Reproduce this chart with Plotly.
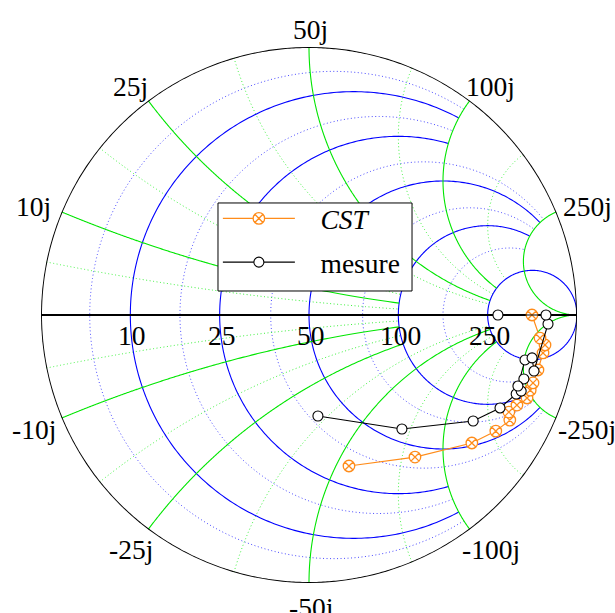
import numpy as np
import plotly.graph_objects as go

Z0 = 50.0

# ---- data (ohms) ----
cst_R = [31.7, 43.5, 52.7, 58.4, 65.7, 79.9, 87.4, 92.7, 110, 130, 180, 301, 396, 472, 545]
cst_X = [-54.1, -82.0, -125, -155, -181, -185, -206, -237, -257, -278, -324, -392, -418, -325, 0]

mes_R = [39.8, 57.5, 76.4, 91.6, 114, 118, 156, 135.5, 245, 262, 181, 793, 814, 289]
mes_X = [-35.0, -70.0, -129, -171, -213, -229, -248, -223, -255, -298, -301, -262, 0, 0]

# ---- tick labels (ohms) ----
real_ticks = [10, 25, 50, 100, 250]
imag_ticks = [10, 25, 50, 100, 250, -10, -25, -50, -100, -250]

# ---- grid definition (normalized) ----
INF = np.inf
major_r = [0.2, 0.5, 1, 2, 5]
major_r_ext = [2, 2, 5, 5, INF]
minor_r = [0.1, 0.35, 0.75, 1.5, 3]
minor_r_ext = [2, 2, 5, 5, 5]
major_x = [0.2, 0.5, 1, 2, 5]
major_x_ext = [2, 2, 5, 5, INF]
minor_x = [0.1, 0.35, 0.75, 1.5, 3]
minor_x_ext = [2, 2, 5, 5, 5]

BLUE = "#0000ff"
GREEN = "#00e600"
MINOR_BLUE = "#4a4aff"
MINOR_GREEN = "#3cf03c"


def r_circle(r, xmax, n=300):
    bmax = 0.49995 * np.pi if np.isinf(xmax) else np.arctan(xmax / (1 + r))
    b = np.linspace(-bmax, bmax, n)
    return np.full(n, r), (1 + r) * np.tan(b)


def x_arc(x, rmax, n=300):
    bmax = 0.49995 * np.pi if np.isinf(rmax) else np.arctan(rmax / abs(x))
    b = np.linspace(0, bmax, n)
    return abs(x) * np.tan(b), np.full(n, x)


fig = go.Figure()


def add_line(re, im, color, width, dash):
    fig.add_trace(go.Scattersmith(real=re, imag=im, mode="lines",
                                  line=dict(color=color, width=width, dash=dash),
                                  hoverinfo="skip", showlegend=False))


for r, e in zip(minor_r, minor_r_ext):
    add_line(*r_circle(r, e), MINOR_BLUE, 1, "1px,2.5px")
for x, e in zip(minor_x, minor_x_ext):
    add_line(*x_arc(x, e), MINOR_GREEN, 1, "1px,2.5px")
    add_line(*x_arc(-x, e), MINOR_GREEN, 1, "1px,2.5px")
for r, e in zip(major_r, major_r_ext):
    add_line(*r_circle(r, e), BLUE, 1.1, "solid")
for x, e in zip(major_x, major_x_ext):
    add_line(*x_arc(x, e), GREEN, 1.1, "solid")
    add_line(*x_arc(-x, e), GREEN, 1.1, "solid")

# outer boundary and real axis
add_line(*r_circle(0, INF, 800), "black", 2, "solid")
add_line([0, 1e7], [0, 0], "black", 2, "solid")

fig.add_trace(go.Scattersmith(
    real=np.array(cst_R) / Z0, imag=np.array(cst_X) / Z0,
    mode="lines+markers", name="&nbsp;&nbsp;&nbsp;<i>CST</i>",
    line=dict(color="#ff8c1a", width=1.2),
    marker=dict(symbol="circle-x", size=11.5, color="white",
                line=dict(color="#ff8c1a", width=1.3)),
    legendgroup="a"))
fig.add_trace(go.Scattersmith(
    real=np.array(mes_R) / Z0, imag=np.array(mes_X) / Z0,
    mode="lines+markers", name="&nbsp;&nbsp;&nbsp;mesure",
    line=dict(color="black", width=1.1),
    marker=dict(symbol="circle", size=10, color="white",
                line=dict(color="black", width=1.1)),
    legendgroup="b"))

FONT = dict(family="Liberation Serif, Times New Roman, serif", size=27.5, color="black")
ann = []
for R in real_ticks:
    z = R / Z0
    g = (z - 1) / (z + 1)
    ann.append(dict(x=0.5 + 0.5 * g, y=0.5, xref="paper", yref="paper",
                    text=str(R), showarrow=False, font=FONT,
                    xanchor="center", yanchor="middle", xshift=2, yshift=-20))
for X in imag_ticks:
    z = 1j * X / Z0
    g = (z - 1) / (z + 1)
    c, s = g.real, g.imag
    ann.append(dict(x=0.5 + 0.5 * c, y=0.5 + 0.5 * s, xref="paper", yref="paper",
                    text=f"{X}j", showarrow=False, font=FONT,
                    xanchor="center", yanchor="middle",
                    xshift=32 * c + 1.5, yshift=21 * s - 3))

# legend frame (drawn as a shape so its size matches the reference)
legend_box = dict(type="rect", xref="paper", yref="paper",
                  x0=0.3302, x1=0.6922, y0=0.5448, y1=0.709,
                  line=dict(color="black", width=1), fillcolor="white", layer="above")

fig.update_layout(
    width=615, height=613,
    margin=dict(l=41, r=38, t=47, b=30),
    paper_bgcolor="white",
    font=FONT,
    smith=dict(
        bgcolor="white",
        domain=dict(x=[0, 1], y=[0, 1]),
        realaxis=dict(showgrid=False, showticklabels=False, showline=False, ticks=""),
        imaginaryaxis=dict(showgrid=False, showticklabels=False, showline=False, ticks=""),
    ),
    showlegend=True,
    legend=dict(x=0.33, y=0.7257, xanchor="left", yanchor="top",
                bgcolor="rgba(0,0,0,0)", borderwidth=0,
                font=FONT, itemwidth=72, tracegroupgap=5, traceorder="grouped"),
    shapes=[legend_box],
    annotations=ann,
)

fig.write_html("out.html", config={"displayModeBar": False},
               post_script="document.body.style.margin='0px';")
